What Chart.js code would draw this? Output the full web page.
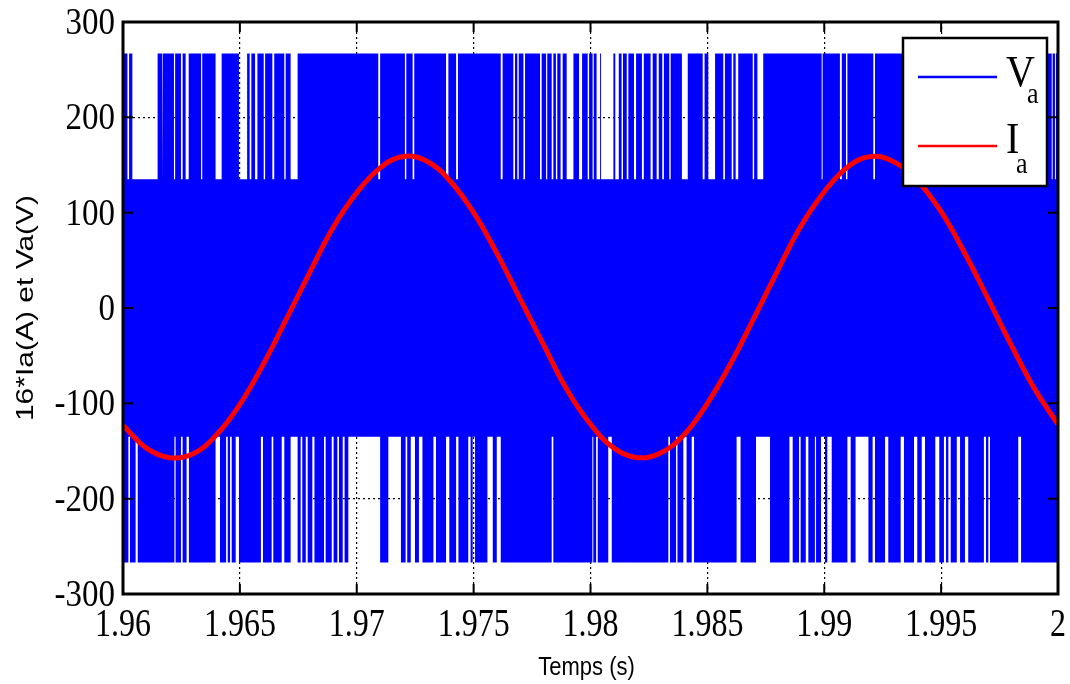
<!DOCTYPE html>
<html>
<head>
<meta charset="utf-8">
<script src="https://cdn.jsdelivr.net/npm/chart.js@4.4.1/dist/chart.umd.min.js"></script>
<style>
  body { margin: 0; background: #fff; }
</style>
</head>
<body>
<canvas id="va-ia" width="1070" height="684"></canvas>
<script>
// Phase voltage Va (PWM, 5 levels) and scaled phase current 16*Ia
const tStart = 1.96;
const tEnd = 2.0;
const vOuter = 267;   // +-2Vdc/3
const vInner = 135;   // +-Vdc/3

// instants where Va does not reach +vOuter (stays at or below +vInner)
const upperGaps = [
  [1.96019, 1.96026], [1.96040, 1.96148], [1.96167, 1.96171], [1.96218, 1.96223],
  [1.96248, 1.96255], [1.96268, 1.96281], [1.96334, 1.96339], [1.96396, 1.96422],
  [1.96496, 1.96531], [1.96542, 1.96549], [1.96565, 1.96575], [1.96602, 1.96608],
  [1.96639, 1.96647], [1.96690, 1.96696], [1.96717, 1.96747], [1.97092, 1.97100],
  [1.97206, 1.97212], [1.97239, 1.97246], [1.97382, 1.97392], [1.97425, 1.97433],
  [1.97616, 1.97624], [1.97670, 1.97677], [1.97687, 1.97693], [1.97713, 1.97720],
  [1.97784, 1.97791], [1.97810, 1.97815], [1.97834, 1.97841], [1.97852, 1.97858],
  [1.97872, 1.97881], [1.97898, 1.97927], [1.97951, 1.97964], [1.97988, 1.97994],
  [1.98009, 1.98014], [1.98026, 1.98041], [1.98045, 1.98098], [1.98106, 1.98121],
  [1.98133, 1.98139], [1.98155, 1.98162], [1.98186, 1.98195], [1.98220, 1.98228],
  [1.98257, 1.98266], [1.98283, 1.98292], [1.98307, 1.98314], [1.98337, 1.98343],
  [1.98391, 1.98416], [1.98480, 1.98488], [1.98504, 1.98533], [1.98568, 1.98575],
  [1.98604, 1.98611], [1.98621, 1.98632], [1.98694, 1.98700], [1.98714, 1.98739],
  [1.98989, 1.98993], [1.99067, 1.99075], [1.99093, 1.99099], [1.99210, 1.99217],
  [1.99420, 1.99430], [1.99610, 1.99625], [1.99800, 1.99810],
  [1.99973, 1.99977], [1.99987, 1.99991]
];

// instants where Va does not reach -vOuter (stays at or above -vInner)
const lowerGaps = [
  [1.96023, 1.96030], [1.96054, 1.96063], [1.96220, 1.96225], [1.96248, 1.96255],
  [1.96272, 1.96282], [1.96396, 1.96415], [1.96441, 1.96448], [1.96458, 1.96465],
  [1.96482, 1.96496], [1.96590, 1.96599], [1.96636, 1.96643], [1.96679, 1.96690],
  [1.96717, 1.96747], [1.96760, 1.96767], [1.96782, 1.96790], [1.96810, 1.96819],
  [1.96860, 1.96867], [1.96893, 1.96901], [1.96917, 1.96924], [1.96940, 1.96948],
  [1.96964, 1.97100], [1.97135, 1.97189], [1.97209, 1.97216], [1.97231, 1.97249],
  [1.97266, 1.97281], [1.97328, 1.97339], [1.97382, 1.97396], [1.97425, 1.97435],
  [1.97477, 1.97487], [1.97496, 1.97506], [1.97559, 1.97582], [1.97599, 1.97616],
  [1.97834, 1.97841], [1.98008, 1.98012], [1.98024, 1.98031], [1.98076, 1.98091],
  [1.98333, 1.98340], [1.98366, 1.98372], [1.98397, 1.98411], [1.98433, 1.98443],
  [1.98625, 1.98642], [1.98708, 1.98768], [1.98851, 1.98865], [1.98892, 1.98899],
  [1.98921, 1.98932], [1.98960, 1.98965], [1.98986, 1.99003], [1.99013, 1.99032],
  [1.99099, 1.99113], [1.99134, 1.99189], [1.99207, 1.99217], [1.99260, 1.99274],
  [1.99327, 1.99341], [1.99384, 1.99398], [1.99417, 1.99431], [1.99475, 1.99492],
  [1.99512, 1.99521], [1.99531, 1.99541], [1.99567, 1.99581], [1.99602, 1.99616],
  [1.99683, 1.99692], [1.99702, 1.99709], [1.99830, 1.99842]
];

// 16*Ia sampled every millisecond
const currentTime = [
  1.960, 1.961, 1.962, 1.963, 1.964, 1.965, 1.966, 1.967, 1.968, 1.969,
  1.970, 1.971, 1.972, 1.973, 1.974, 1.975, 1.976, 1.977, 1.978, 1.979,
  1.980, 1.981, 1.982, 1.983, 1.984, 1.985, 1.986, 1.987, 1.988, 1.989,
  1.990, 1.991, 1.992, 1.993, 1.994, 1.995, 1.996, 1.997, 1.998, 1.999, 2.000
];
const currentValue = [
  -123, -147, -157, -153, -133, -101, -59, -11, 38, 85,
  121, 147, 159, 154, 133, 100, 57, 9, -39, -86,
  -122, -147, -157, -152, -133, -100, -58, -10, 39, 86,
  122, 148, 159, 153, 133, 101, 58, 10, -39, -85, -122
];

const yTicks = [-300, -200, -100, 0, 100, 200, 300];

// outline of one half of the PWM envelope: outer level except inside the gaps
function pwmOutline(gaps, outer, inner) {
  const pts = [{ x: tStart, y: outer }];
  gaps.forEach(([a, b]) => {
    pts.push({ x: a, y: outer }, { x: a, y: inner }, { x: b, y: inner }, { x: b, y: outer });
  });
  pts.push({ x: tEnd, y: outer });
  return pts;
}

const blue = '#0000ff';
const red = '#ff0000';

// text drawn slightly taller than wide, like the exported figure
function tallText(ctx, text, x, y, font, align, sy) {
  ctx.save();
  ctx.translate(x, y);
  ctx.scale(1, sy);
  ctx.font = font;
  ctx.textAlign = align;
  ctx.textBaseline = 'alphabetic';
  ctx.fillStyle = '#000';
  ctx.fillText(text, 0, 0);
  ctx.restore();
}

const fmtTime = v => String(Math.round(v * 1000) / 1000);

// inner tick marks, box frame, tick labels, legend and axis labels
const matlabAxes = {
  id: 'matlabAxes',
  afterDatasetsDraw(chart) {
    const { ctx, chartArea: a, scales: { x, y } } = chart;
    ctx.save();
    ctx.strokeStyle = '#000';
    ctx.lineWidth = 2;
    ctx.beginPath();
    x.ticks.forEach(t => {
      const px = x.getPixelForValue(t.value);
      ctx.moveTo(px, a.bottom); ctx.lineTo(px, a.bottom - 10);
      ctx.moveTo(px, a.top); ctx.lineTo(px, a.top + 10);
    });
    y.ticks.forEach(t => {
      const py = y.getPixelForValue(t.value);
      ctx.moveTo(a.left, py); ctx.lineTo(a.left + 10, py);
      ctx.moveTo(a.right, py); ctx.lineTo(a.right - 10, py);
    });
    ctx.stroke();
    ctx.lineWidth = 3;
    ctx.strokeRect(a.left, a.top, a.right - a.left, a.bottom - a.top);
    ctx.restore();
  },
  afterDraw(chart) {
    const { ctx, chartArea: a, scales: { x, y } } = chart;
    const serif = '"Liberation Serif"';

    // tick labels
    x.ticks.forEach(t => {
      tallText(ctx, fmtTime(t.value), x.getPixelForValue(t.value), a.bottom + 42,
        '32px ' + serif, 'center', 1.23);
    });
    y.ticks.forEach(t => {
      tallText(ctx, String(t.value), a.left - 8, y.getPixelForValue(t.value) + 12,
        '33px ' + serif, 'right', 1.12);
    });

    // x axis label
    tallText(ctx, 'Temps (s)', (a.left + a.right) / 2 - 4, 675, '22px "Liberation Sans"', 'center', 1.2);

    ctx.save();
    // legend box
    const bx = a.right - 155, by = a.top + 16, bw = 144, bh = 148;
    ctx.fillStyle = '#fff';
    ctx.fillRect(bx, by, bw, bh);
    ctx.strokeStyle = '#000';
    ctx.lineWidth = 2.5;
    ctx.strokeRect(bx, by, bw, bh);

    const entries = [
      { color: chart.data.datasets[1].borderColor, name: 'V', lineY: by + 39, base: by + 48, subX: 21, subBase: by + 65 },
      { color: chart.data.datasets[0].borderColor, name: 'I', lineY: by + 108, base: by + 115, subX: 10, subBase: by + 135 }
    ];
    entries.forEach(e => {
      ctx.strokeStyle = e.color;
      ctx.lineWidth = 2.5;
      ctx.beginPath();
      ctx.moveTo(bx + 15, e.lineY);
      ctx.lineTo(bx + 94, e.lineY);
      ctx.stroke();
      tallText(ctx, e.name, bx + 103, e.base, '40px ' + serif, 'left', 1.1);
      tallText(ctx, 'a', bx + 103 + e.subX, e.subBase, '26px ' + serif, 'left', 1.15);
    });
    ctx.restore();

    // y axis label, stretched along its length
    ctx.save();
    ctx.translate(26, (a.top + a.bottom) / 2);
    ctx.rotate(-Math.PI / 2);
    ctx.scale(1.25, 1);
    ctx.fillStyle = '#000';
    ctx.font = '24px "Liberation Sans"';
    ctx.textAlign = 'center';
    ctx.textBaseline = 'middle';
    ctx.fillText('16*Ia(A) et Va(V)', 0, 0);
    ctx.restore();
  }
};

const gridOpts = { color: '#000', lineWidth: 1.2, drawTicks: false };
const borderOpts = { display: false, dash: [2, 3] };

new Chart(document.getElementById('va-ia'), {
  type: 'line',
  data: {
    datasets: [
      {
        label: 'Ia',
        data: currentTime.map((t, i) => ({ x: t, y: currentValue[i] })),
        borderColor: red,
        borderWidth: 5,
        pointRadius: 0,
        tension: 0.4,
        fill: false,
        order: 0
      },
      {
        label: 'Va',
        data: pwmOutline(upperGaps, vOuter, vInner),
        borderColor: blue,
        backgroundColor: blue,
        borderWidth: 0,
        pointRadius: 0,
        tension: 0,
        fill: 'origin',
        order: 1
      },
      {
        label: 'Va (neg)',
        data: pwmOutline(lowerGaps, -vOuter, -vInner),
        borderColor: blue,
        backgroundColor: blue,
        borderWidth: 0,
        pointRadius: 0,
        tension: 0,
        fill: 'origin',
        order: 2
      }
    ]
  },
  options: {
    responsive: false,
    animation: false,
    events: [],
    layout: { padding: { top: 22, right: 12, left: 0, bottom: 0 } },
    plugins: {
      legend: { display: false },
      tooltip: { enabled: false }
    },
    scales: {
      x: {
        type: 'linear',
        min: tStart,
        max: tEnd,
        grid: gridOpts,
        border: borderOpts,
        ticks: { display: false, stepSize: 0.005 },
        afterFit: s => { s.height = 90; }
      },
      y: {
        min: -300,
        max: 300,
        grid: gridOpts,
        border: borderOpts,
        afterBuildTicks: s => { s.ticks = yTicks.map(v => ({ value: v })); },
        ticks: { display: false },
        afterFit: s => { s.width = 123; }
      }
    }
  },
  plugins: [matlabAxes]
});
</script>
</body>
</html>
